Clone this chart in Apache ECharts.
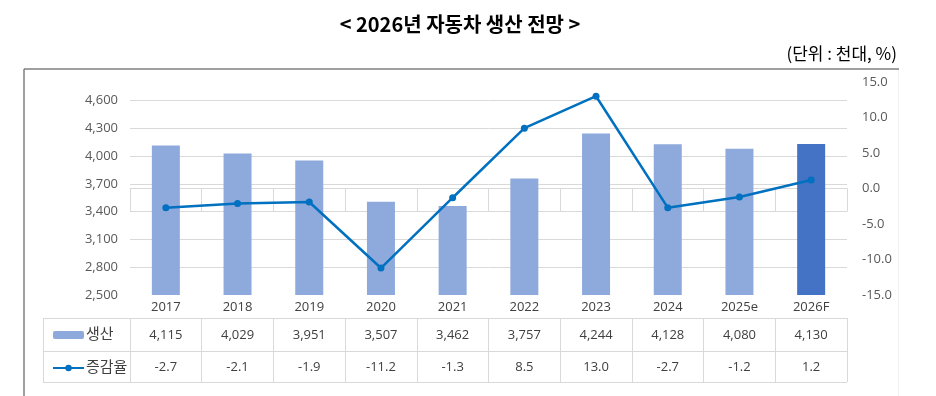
<!DOCTYPE html>
<html><head><meta charset="utf-8">
<script src="https://cdn.jsdelivr.net/npm/echarts@6/dist/echarts.min.js"></script>
<style>html,body{margin:0;padding:0;background:#fff}#c{width:936px;height:396px}</style>
</head><body><div id="c"></div>
<script>
const years = ['2017','2018','2019','2020','2021','2022','2023','2024','2025e','2026F'];
const production = [4115, 4029, 3951, 3507, 3462, 3757, 4244, 4128, 4080, 4130];
const growth = [-2.7, -2.1, -1.9, -11.2, -1.3, 8.5, 13.0, -2.7, -1.2, 1.2];
const titleText = '< 2026년 자동차 생산 전망 >';
const unitText = '(단위 : 천대, %)';
const seriesNames = ['생산', '증감율'];

const FONT = '"Open Sans", "Noto Sans CJK KR", sans-serif';
const GRID = '#d9d9d9';
const TXT = '#404040';
const fmtComma = v => Math.round(v).toString().replace(/\B(?=(\d{3})+(?!\d))/g, ',');

const chart = echarts.init(document.getElementById('c'));
const tableAxis = (offset, tickLen, margin, labels) => ({
  type: 'category', data: years, position: 'bottom', offset: offset, gridIndex: 0,
  axisLine: { show: true, lineStyle: { color: GRID, width: 1 } },
  axisTick: { show: true, length: tickLen, lineStyle: { color: GRID, width: 1 } },
  axisLabel: { margin: margin, color: TXT, fontSize: 13, fontFamily: FONT, interval: 0,
    formatter: (v, i) => labels[i] },
  splitLine: { show: false }
});

chart.setOption({
  animation: false,
  grid: { left: 130, right: 89, top: 82, bottom: 101, containLabel: false },
  legend: {
    orient: 'vertical', left: 47, top: 322, itemGap: 17, itemWidth: 31, itemHeight: 8,
    data: seriesNames,
    textStyle: { color: TXT, fontSize: 15, fontFamily: FONT, lineHeight: 16, padding: [0,0,0,-3] }
  },
  xAxis: [
    tableAxis(0, 23, 6, years),
    tableAxis(23, 33, 11, production.map(fmtComma)),
    tableAxis(56, 31, 10, growth.map(v => v.toFixed(1)))
  ],
  yAxis: [
    { type: 'value', min: 2500, max: 4800, interval: 300,
      axisLine: { show: false }, axisTick: { show: false },
      axisLabel: { margin: 12, color: '#595959', fontSize: 13, fontFamily: FONT,
        showMaxLabel: false, formatter: v => (v > 4600 ? '' : fmtComma(v)) },
      splitLine: { show: true, showMinLine: false, showMaxLine: false, lineStyle: { color: GRID, width: 1 } } },
    { type: 'value', min: -15, max: 15, interval: 5, position: 'right',
      axisLine: { show: false }, axisTick: { show: false },
      axisLabel: { margin: 15, color: '#595959', fontSize: 13, fontFamily: FONT,
        formatter: v => v.toFixed(1) },
      splitLine: { show: false } }
  ],
  series: [
    { name: seriesNames[0], type: 'bar', xAxisIndex: 0, yAxisIndex: 0, barWidth: 28,
      itemStyle: { color: '#8EA9DB' },
      data: production.map((v, i) => i === production.length - 1 ? { value: v, itemStyle: { color: '#4472C4' } } : v) },
    { name: seriesNames[1], type: 'line', xAxisIndex: 0, yAxisIndex: 1,
      symbol: 'circle', symbolSize: 7, z: 5,
      itemStyle: { color: '#0070C0' }, lineStyle: { color: '#0070C0', width: 2.5 },
      data: growth }
  ],
  graphic: [
    { type: 'text', x: 460, y: 24, style: { text: titleText, fill: '#000', align: 'center', verticalAlign: 'middle',
      font: 'bold 20px "Noto Sans CJK KR", sans-serif' } },
    { type: 'text', x: 897, y: 54, style: { text: unitText, fill: '#000', align: 'right', verticalAlign: 'middle',
      font: '17px "Noto Sans CJK KR", sans-serif' } },
    { type: 'line', shape: { x1: 24, y1: 69, x2: 899, y2: 69 }, style: { stroke: '#7f7f7f', lineWidth: 1.5 } },
    { type: 'line', shape: { x1: 24, y1: 69, x2: 24, y2: 396 }, style: { stroke: '#7f7f7f', lineWidth: 1.5 } },
    { type: 'line', shape: { x1: 898.5, y1: 70, x2: 898.5, y2: 396 }, style: { stroke: '#f0f0f0', lineWidth: 1 } },
    { type: 'line', shape: { x1: 43, y1: 318.5, x2: 130, y2: 318.5 }, style: { stroke: GRID, lineWidth: 1 } },
    { type: 'line', shape: { x1: 43, y1: 351.5, x2: 130, y2: 351.5 }, style: { stroke: GRID, lineWidth: 1 } },
    { type: 'line', shape: { x1: 43, y1: 382.5, x2: 847, y2: 382.5 }, style: { stroke: GRID, lineWidth: 1 } },
    { type: 'line', shape: { x1: 43.5, y1: 318, x2: 43.5, y2: 383 }, style: { stroke: GRID, lineWidth: 1 } }
  ]
});
</script></body></html>
